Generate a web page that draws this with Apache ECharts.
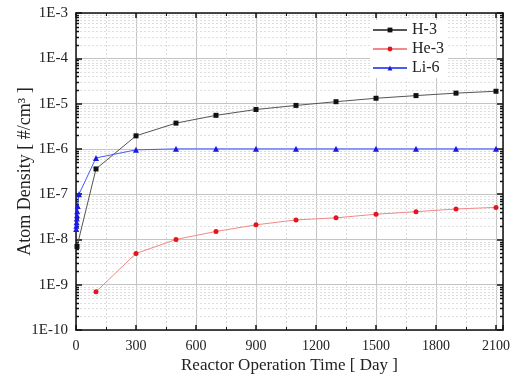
<!DOCTYPE html>
<html>
<head>
<meta charset="utf-8">
<script src="https://cdn.jsdelivr.net/npm/echarts@6/dist/echarts.min.js"></script>
<style>
  html, body { margin: 0; padding: 0; background: #fff; }
  #chart { width: 512px; height: 382px; }
</style>
</head>
<body>
<div id="chart"></div>
<script>
// values
const h3Days = [5, 100, 300, 500, 700, 900, 1100, 1300, 1500, 1700, 1900, 2100];
const h3Vals = [7e-9, 3.6e-7, 1.94e-6, 3.7e-6, 5.5e-6, 7.4e-6, 9.1e-6, 1.1e-5, 1.31e-5, 1.5e-5, 1.7e-5, 1.87e-5];

const he3Days = [100, 300, 500, 700, 900, 1100, 1300, 1500, 1700, 1900, 2100];
const he3Vals = [7e-10, 4.9e-9, 1.0e-8, 1.5e-8, 2.1e-8, 2.7e-8, 3.0e-8, 3.6e-8, 4.1e-8, 4.7e-8, 5.1e-8];

const li6Days = [1, 2, 3, 4, 5, 6, 8, 15, 100, 300, 500, 700, 900, 1100, 1300, 1500, 1700, 1900, 2100];
const li6Vals = [1.7e-8, 2.0e-8, 2.4e-8, 2.9e-8, 3.4e-8, 4.2e-8, 5.5e-8, 1e-7, 6.3e-7, 9.5e-7, 1e-6, 1e-6, 1e-6, 1e-6, 1e-6, 1e-6, 1e-6, 1e-6, 1e-6];

const xMin = 0, xMax = 2135;
const yMin = 1e-10, yMax = 1e-3;

// minor log positions 2..9 in each decade
const minorVals = [];
for (let e = -10; e < -3; e++) {
  for (let m = 2; m <= 9; m++) minorVals.push(m * Math.pow(10, e));
}

const zip = (a, b) => a.map((d, i) => [d, b[i]]);
const font = "Liberation Serif";

const chart = echarts.init(document.getElementById("chart"));

const option = {
  backgroundColor: "#fff",
  animation: false,
  grid: { left: 76, right: 9, top: 13, bottom: 52, outerBoundsMode: "none", containLabel: false },
  legend: {
    orient: "vertical",
    left: 370,
    top: 20,
    itemWidth: 34,
    itemHeight: 6,
    itemGap: 3,
    backgroundColor: "#fff",
    padding: [2, 4, 2, 2],
    textStyle: { fontFamily: font, fontSize: 16, color: "#222" },
    data: ["H-3", "He-3", "Li-6"],
  },
  xAxis: [
    {
      type: "value",
      min: xMin,
      max: xMax,
      interval: 300,
      name: "Reactor Operation Time [ Day ]",
      nameLocation: "middle",
      nameGap: 27,
      nameMoveOverlap: false,
      nameTextStyle: { fontFamily: font, fontSize: 17, color: "#222" },
      axisLine: { onZero: false, lineStyle: { color: "#111", width: 1.5 } },
      axisTick: { inside: true, length: 5, lineStyle: { color: "#111", width: 1.5 } },
      minorTick: { show: true, splitNumber: 2, length: 3, lineStyle: { color: "#111" } },
      axisLabel: {
        fontFamily: font, fontSize: 14, color: "#222", margin: 9, showMaxLabel: false,
        formatter: (v) => String(v),
      },
      splitLine: { show: true, lineStyle: { color: "#c4c4c4", width: 1 } },
      minorSplitLine: { show: true, lineStyle: { color: "#dedede", width: 1, type: [2, 2] } },
    },
    {
      type: "value",
      position: "top",
      min: xMin,
      max: xMax,
      interval: 300,
      axisLine: { onZero: false, lineStyle: { color: "#111", width: 1.5 } },
      axisTick: { inside: true, length: 5, lineStyle: { color: "#111", width: 1.5 } },
      minorTick: { show: true, splitNumber: 2, length: 3, lineStyle: { color: "#111" } },
      axisLabel: { show: false },
      splitLine: { show: false },
    },
  ],
  yAxis: [
    {
      type: "log",
      logBase: 10,
      min: yMin,
      max: yMax,
      splitNumber: 7,
      name: "Atom Density [ #/cm³ ]",
      nameLocation: "middle",
      nameGap: 42,
      nameMoveOverlap: false,
      nameTextStyle: { fontFamily: font, fontSize: 18, color: "#222" },
      axisLine: { onZero: false, lineStyle: { color: "#111", width: 1.5 } },
      axisTick: { inside: true, length: 6, lineStyle: { color: "#111", width: 1.5 } },
      axisLabel: {
        fontFamily: font,
        fontSize: 15,
        color: "#222",
        margin: 8,
        formatter: (v) => "1E" + Math.round(Math.log10(v)),
      },
      splitLine: { show: true, lineStyle: { color: "#c4c4c4", width: 1 } },
    },
    {
      type: "log",
      logBase: 10,
      position: "right",
      min: yMin,
      max: yMax,
      splitNumber: 7,
      axisLine: { onZero: false, lineStyle: { color: "#111", width: 1.5 } },
      axisTick: { inside: true, length: 6, lineStyle: { color: "#111", width: 1.5 } },
      axisLabel: { show: false },
      splitLine: { show: false },
    },
  ],
  series: [
    {
      // minor log grid lines and ticks
      type: "custom",
      silent: true,
      z: 0,
      data: minorVals.map((v) => [xMin, v]),
      encode: { x: 0, y: 1 },
      renderItem: (params, api) => {
        const cs = params.coordSys;
        const y = Math.round(api.coord([xMin, api.value(1)])[1]) + 0.5;
        const x0 = cs.x, x1 = cs.x + cs.width;
        return {
          type: "group",
          children: [
            { type: "line", shape: { x1: x0, y1: y, x2: x1, y2: y }, style: { stroke: "#dedede", lineWidth: 1, lineDash: [2, 2] } },
            { type: "line", z2: 10, shape: { x1: x0, y1: y, x2: x0 + 3, y2: y }, style: { stroke: "#111", lineWidth: 1.5 } },
            { type: "line", z2: 10, shape: { x1: x1 - 3, y1: y, x2: x1, y2: y }, style: { stroke: "#111", lineWidth: 1.5 } },
          ],
        };
      },
    },
    {
      name: "H-3",
      type: "line",
      data: zip(h3Days, h3Vals),
      symbol: "rect",
      symbolSize: 5,
      itemStyle: { color: "#111" },
      lineStyle: { color: "#555", width: 1 },
      z: 3,
    },
    {
      name: "He-3",
      type: "line",
      data: zip(he3Days, he3Vals),
      symbol: "circle",
      symbolSize: 5,
      itemStyle: { color: "#e8141c" },
      lineStyle: { color: "#f28888", width: 1 },
      z: 3,
    },
    {
      name: "Li-6",
      type: "line",
      data: zip(li6Days, li6Vals),
      symbol: "triangle",
      symbolSize: 6,
      itemStyle: { color: "#1a1ae6" },
      lineStyle: { color: "#4a5cf0", width: 1 },
      z: 3,
    },
  ],
};

chart.setOption(option);
</script>
</body>
</html>
